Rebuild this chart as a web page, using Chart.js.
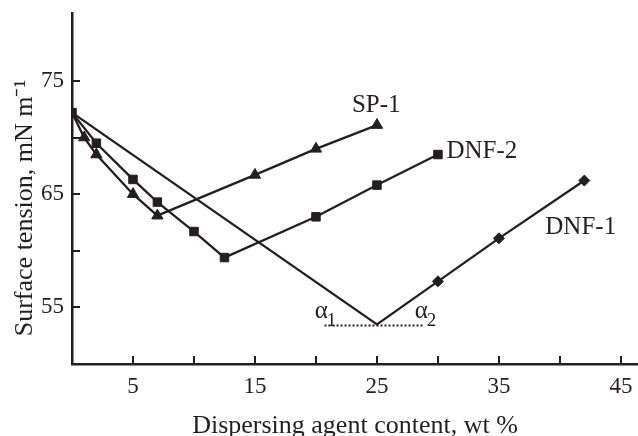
<!DOCTYPE html>
<html>
<head>
<meta charset="utf-8">
<script src="https://cdn.jsdelivr.net/npm/chart.js@4.4.1/dist/chart.umd.min.js"></script>
<style>
  html, body { margin: 0; padding: 0; background: #ffffff; }
  #wrap { width: 638px; height: 436px; position: relative; }
</style>
</head>
<body>
<div id="wrap"><canvas id="c" width="638" height="436"></canvas></div>
<script>
// ---- data ----
const dnf2X = [0, 2, 5, 7, 10, 12.5, 20, 25, 30];
const dnf2Y = [72.2, 69.5, 66.3, 64.3, 61.7, 59.4, 63.0, 65.8, 68.5];
const sp1X  = [0, 1, 2, 5, 7, 15, 20, 25];
const sp1Y  = [72.2, 70.0, 68.5, 65.0, 63.1, 66.7, 69.0, 71.1];
const dnf1X = [0, 25, 30, 35, 42];
const dnf1Y = [72.2, 53.5, 57.3, 61.1, 66.2];
const refLineX = [20.7, 28.9];
const refLineY = [53.4, 53.4];
const xTicks = [5, 10, 15, 20, 25, 30, 35, 40, 45];
const xTickLabels = ['5', '', '15', '', '25', '', '35', '', '45'];
const yTicks = [55, 60, 65, 70, 75];
const yTickLabels = ['55', '', '65', '', '75'];
const seriesNames = ['SP-1', 'DNF-2', 'DNF-1'];

const INK = '#231f20';
const FONT = "'Liberation Serif', 'Times New Roman', serif";

function pts(xs, ys) { return xs.map((x, i) => ({ x: x, y: ys[i] })); }

// text annotations (anchor in data units)
const notes = [
  { text: seriesNames[0], x: 22.95, y: 72.25, size: 25 },
  { text: seriesNames[1], x: 30.7, y: 68.2, size: 25 },
  { text: seriesNames[2], x: 38.8, y: 61.45, size: 25 },
];
const angles = [
  { x: 19.9, y: 54.05, sub: '1' },
  { x: 28.1, y: 54.05, sub: '2' },
];

const tickMarks = {
  id: 'tickMarks',
  afterDraw(chart) {
    const ctx = chart.ctx;
    const xs = chart.scales.x, ys = chart.scales.y;
    ctx.save();
    ctx.strokeStyle = INK;
    ctx.lineWidth = 2;
    xTicks.forEach(v => {
      const px = Math.round(xs.getPixelForValue(v));
      ctx.beginPath(); ctx.moveTo(px, ys.bottom); ctx.lineTo(px, ys.bottom - 8); ctx.stroke();
    });
    yTicks.forEach(v => {
      const py = Math.round(ys.getPixelForValue(v));
      ctx.beginPath(); ctx.moveTo(xs.left, py); ctx.lineTo(xs.left + 8, py); ctx.stroke();
    });
    ctx.restore();
  }
};

const labelsPlugin = {
  id: 'seriesLabels',
  afterDatasetsDraw(chart) {
    const ctx = chart.ctx;
    const xs = chart.scales.x, ys = chart.scales.y;
    ctx.save();
    ctx.fillStyle = INK;
    ctx.textAlign = 'left';
    ctx.textBaseline = 'alphabetic';
    notes.forEach(n => {
      ctx.font = n.size + 'px ' + FONT;
      ctx.fillText(n.text, xs.getPixelForValue(n.x), ys.getPixelForValue(n.y));
    });
    angles.forEach(a => {
      const px = xs.getPixelForValue(a.x), py = ys.getPixelForValue(a.y);
      ctx.font = '25px ' + FONT;
      ctx.fillText('\u03B1', px, py);
      const w = ctx.measureText('\u03B1').width;
      ctx.font = '19px ' + FONT;
      ctx.fillText(a.sub, px + w - 1, py + 8);
    });
    ctx.restore();
  }
};

const common = { borderColor: INK, backgroundColor: INK, borderWidth: 2.3, pointBorderWidth: 1, pointBorderColor: INK, pointBackgroundColor: INK, tension: 0, fill: false };

new Chart(document.getElementById('c'), {
  type: 'scatter',
  data: {
    datasets: [
      Object.assign({}, common, {
        label: seriesNames[2], data: pts(dnf1X, dnf1Y), showLine: true,
        pointStyle: 'rectRot',
        pointRadius: c => (c.raw && (c.raw.x === 0 || c.raw.x === 25)) ? 0 : 5.5
      }),
      Object.assign({}, common, {
        label: seriesNames[0], data: pts(sp1X, sp1Y), showLine: true,
        pointStyle: 'triangle',
        pointRadius: c => (c.raw && c.raw.x === 0) ? 0 : 6.5
      }),
      Object.assign({}, common, {
        label: seriesNames[1], data: pts(dnf2X, dnf2Y), showLine: true,
        pointStyle: 'rect', pointRadius: 6
      }),
      {
        label: 'ref', data: pts(refLineX, refLineY), showLine: true,
        borderColor: INK, borderWidth: 2, borderDash: [2, 2], pointRadius: 0, fill: false
      }
    ]
  },
  options: {
    responsive: false,
    animation: false,
    events: [],
    layout: { autoPadding: false, padding: { top: 13, right: 0, left: 0, bottom: 0 } },
    plugins: { legend: { display: false }, tooltip: { enabled: false } },
    scales: {
      x: {
        type: 'linear', min: 0, max: 46.4,
        grid: { display: false, drawTicks: false },
        border: { display: true, color: INK, width: 2.5 },
        afterBuildTicks: s => { s.ticks = xTicks.map(v => ({ value: v })); },
        afterFit: s => { s.height = 72; s.paddingLeft = 0; s.paddingRight = 0; },
        ticks: {
          color: INK, padding: 9, maxRotation: 0, autoSkip: false,
          font: { family: FONT, size: 23 },
          callback: (v) => { const i = xTicks.indexOf(v); return i >= 0 ? xTickLabels[i] : ''; }
        },
        title: {
          display: true, text: 'Dispersing agent content, wt %', color: INK,
          font: { family: FONT, size: 26, lineHeight: 0.78 }, padding: { top: 0, bottom: 0 }
        }
      },
      y: {
        type: 'linear', min: 50, max: 81,
        grid: { display: false, drawTicks: false },
        border: { display: true, color: INK, width: 2.5 },
        afterBuildTicks: s => { s.ticks = yTicks.map(v => ({ value: v })); },
        afterFit: s => { s.width = 72; s.paddingTop = 0; s.paddingBottom = 0; },
        ticks: {
          color: INK, padding: 8, autoSkip: false,
          font: { family: FONT, size: 23 },
          callback: (v) => { const i = yTicks.indexOf(v); return i >= 0 ? yTickLabels[i] : ''; }
        },
        title: {
          display: true, text: 'Surface tension, mN m\u207B\u00B9      ', color: INK,
          font: { family: FONT, size: 26, lineHeight: 1.0 }, padding: { top: 12, bottom: 0 }
        }
      }
    }
  },
  plugins: [tickMarks, labelsPlugin]
});
</script>
</body>
</html>
